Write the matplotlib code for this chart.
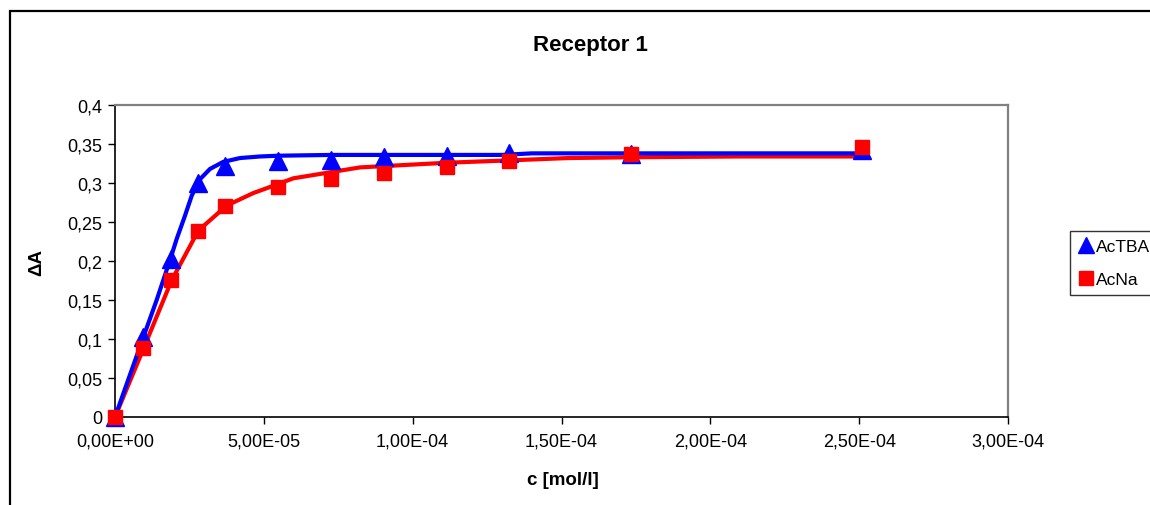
import matplotlib

matplotlib.use("Agg")
import matplotlib.pyplot as plt
from matplotlib.lines import Line2D
from matplotlib.patches import Rectangle
from matplotlib.ticker import FixedLocator, FixedFormatter

plt.rcParams["font.family"] = ["Liberation Sans", "DejaVu Sans"]

# measured points (concentration in mol/l)
conc = [0.0, 0.94e-5, 1.88e-5, 2.79e-5, 3.70e-5, 5.48e-5, 7.26e-5,
        9.04e-5, 1.116e-4, 1.324e-4, 1.734e-4, 2.51e-4]
dA_actba = [0.0, 0.102, 0.202, 0.300, 0.322, 0.328, 0.329,
            0.333, 0.335, 0.339, 0.337, 0.342]
dA_acna = [0.0, 0.088, 0.176, 0.239, 0.270, 0.295, 0.305,
           0.313, 0.320, 0.328, 0.337, 0.346]

# fitted binding curves
fit_x_actba = [0.0, 0.94e-5, 1.40e-5, 1.88e-5, 2.07e-5, 2.35e-5, 2.58e-5,
               2.86e-5, 3.19e-5, 3.63e-5, 4.20e-5, 4.87e-5, 5.50e-5,
               7.30e-5, 1.30e-4, 1.40e-4, 2.51e-4]
fit_y_actba = [0.0, 0.101, 0.150, 0.205, 0.228, 0.258, 0.284,
               0.305, 0.318, 0.327, 0.332, 0.334, 0.335,
               0.336, 0.336, 0.338, 0.338]
fit_x_acna = [0.0, 0.95e-5, 1.90e-5, 2.80e-5, 3.75e-5, 4.64e-5, 5.43e-5,
              5.99e-5, 7.11e-5, 8.23e-5, 1.116e-4, 1.324e-4, 1.524e-4,
              1.734e-4, 2.10e-4, 2.51e-4]
fit_y_acna = [0.0, 0.087, 0.175, 0.239, 0.271, 0.287, 0.298,
              0.306, 0.313, 0.320, 0.326, 0.329, 0.332,
              0.333, 0.334, 0.334]

x_ticks = [0.0, 5e-5, 1e-4, 1.5e-4, 2e-4, 2.5e-4, 3e-4]
x_tick_labels = ["0,00E+00", "5,00E-05", "1,00E-04", "1,50E-04",
                 "2,00E-04", "2,50E-04", "3,00E-04"]
y_ticks = [0.0, 0.05, 0.1, 0.15, 0.2, 0.25, 0.3, 0.35, 0.4]
y_tick_labels = ["0", "0,05", "0,1", "0,15", "0,2", "0,25", "0,3", "0,35", "0,4"]

BLUE = "#0000FF"
RED = "#FF0000"

fig = plt.figure(figsize=(11.5, 5.06), dpi=100)
W, H = 1150, 506

# outer chart frame (runs off the right and bottom edges)
fig.patches.append(Rectangle((10 / W, -0.2), 1.2, 1.0 - 12 / H + 0.2,
                             transform=fig.transFigure, fill=False,
                             edgecolor="black", linewidth=1.6))

ax = fig.add_axes([115 / W, 1 - 418 / H, (1008 - 115) / W, (418 - 106) / H])

ax.plot(fit_x_acna, fit_y_acna, color=RED, linewidth=3, zorder=3, clip_on=False)
ax.plot(fit_x_actba, fit_y_actba, color=BLUE, linewidth=3, zorder=4, clip_on=False)
ax.plot(conc, dA_actba, linestyle="none", marker="^", markersize=13,
        color=BLUE, zorder=5, clip_on=False)
ax.plot(conc, dA_acna, linestyle="none", marker="s", markersize=9.5,
        color=RED, zorder=6, clip_on=False)

ax.set_xlim(0, 3e-4)
ax.set_ylim(0, 0.4)
ax.xaxis.set_major_locator(FixedLocator(x_ticks))
ax.xaxis.set_major_formatter(FixedFormatter(x_tick_labels))
ax.yaxis.set_major_locator(FixedLocator(y_ticks))
ax.yaxis.set_major_formatter(FixedFormatter(y_tick_labels))
ax.tick_params(axis="both", direction="out", length=5, width=1,
               colors="black", labelsize=13)
ax.tick_params(axis="x", pad=6)
ax.tick_params(axis="y", pad=4)

for side in ("left", "bottom"):
    ax.spines[side].set_color("black")
    ax.spines[side].set_linewidth(1.2)
for side in ("top", "right"):
    ax.spines[side].set_color("#808080")
    ax.spines[side].set_linewidth(1.6)

fig.text(590 / W, 1 - 45 / H, "Receptor 1", ha="center", va="center",
         fontsize=16, fontweight="bold")
fig.text(563 / W, 1 - 481 / H, "c [mol/l]", ha="center", va="center",
         fontsize=13.5, fontweight="bold")
fig.text(37 / W, 1 - 262 / H, "ΔA", ha="center", va="center",
         rotation=90, fontsize=13.5, fontweight="bold")

handles = [
    Line2D([], [], linestyle="none", marker="^", markersize=12, color=BLUE),
    Line2D([], [], linestyle="none", marker="s", markersize=10, color=RED),
]
leg = fig.legend(handles, ["AcTBA", "AcNa"], loc="upper left",
                 bbox_to_anchor=(1070 / W, 1 - 232 / H), frameon=True,
                 fancybox=False, shadow=False, fontsize=12.5,
                 handlelength=0.9, handletextpad=0.15, labelspacing=1.05,
                 borderpad=0.45, borderaxespad=0)
leg.get_frame().set_edgecolor("black")
leg.get_frame().set_linewidth(1.0)

fig.savefig("out.png", dpi=100)
